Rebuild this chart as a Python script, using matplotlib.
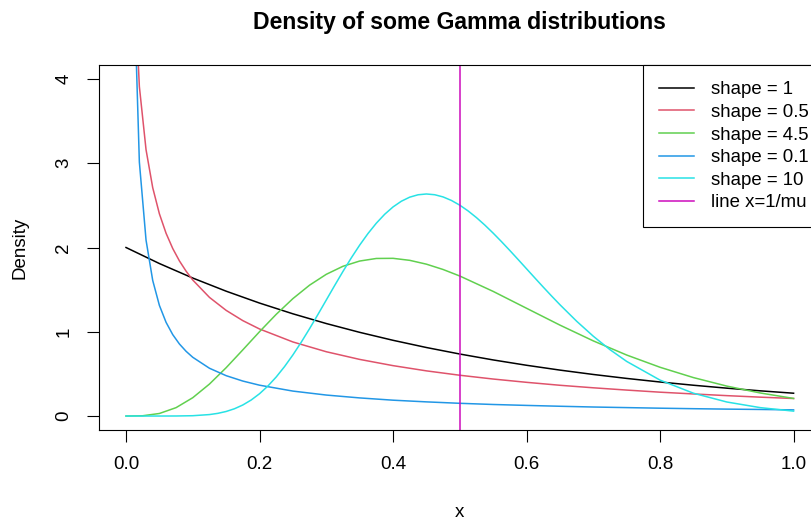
import matplotlib
matplotlib.use('Agg')
import matplotlib.pyplot as plt

# values (Gamma densities, mean 1/mu = 0.5)
x_shape1 = [0.0, 0.05, 0.1, 0.15, 0.2, 0.25, 0.3, 0.35, 0.4, 0.45, 0.5,
            0.55, 0.6, 0.65, 0.7, 0.75, 0.8, 0.85, 0.9, 0.95, 1.0]
y_shape1 = [2.0, 1.8097, 1.6375, 1.4816, 1.3406, 1.2131, 1.0976, 0.9932,
            0.8987, 0.8131, 0.7358, 0.6657, 0.6024, 0.5451, 0.4932, 0.4463,
            0.4038, 0.3654, 0.3306, 0.2991, 0.2707]

x_steep = [0.01, 0.02, 0.03, 0.04, 0.05, 0.06, 0.07, 0.08, 0.09, 0.1,
           0.125, 0.15, 0.175, 0.2, 0.25, 0.3, 0.35, 0.4, 0.45, 0.5, 0.55,
           0.6, 0.65, 0.7, 0.75, 0.8, 0.85, 0.9, 0.95, 1.0]
y_shape05 = [5.586, 3.910, 3.161, 2.710, 2.400, 2.169, 1.988, 1.841, 1.719,
             1.614, 1.408, 1.254, 1.132, 1.033, 0.879, 0.763, 0.672, 0.598,
             0.536, 0.484, 0.439, 0.400, 0.365, 0.335, 0.308, 0.283, 0.262,
             0.242, 0.224, 0.208]
y_shape01 = [5.635, 3.014, 2.088, 1.609, 1.313, 1.112, 0.966, 0.855, 0.768,
             0.697, 0.567, 0.479, 0.415, 0.366, 0.296, 0.249, 0.215, 0.188,
             0.168, 0.151, 0.137, 0.126, 0.116, 0.107, 0.100, 0.093, 0.087,
             0.082, 0.078, 0.073]

x_shape45 = [0.0, 0.025, 0.05, 0.075, 0.1, 0.125, 0.15, 0.175, 0.2, 0.225,
             0.25, 0.275, 0.3, 0.325, 0.35, 0.375, 0.4, 0.425, 0.45, 0.475,
             0.5, 0.55, 0.6, 0.65, 0.7, 0.75, 0.8, 0.85, 0.9, 0.95, 1.0]
y_shape45 = [0.0, 0.0033, 0.0302, 0.0995, 0.2176, 0.3794, 0.5734, 0.7854,
             1.0008, 1.2068, 1.3934, 1.5532, 1.6818, 1.7772, 1.8393, 1.8699,
             1.8715, 1.8477, 1.8022, 1.7389, 1.6616, 1.4790, 1.2788, 1.0790,
             0.8917, 0.7239, 0.5786, 0.4561, 0.3552, 0.2737, 0.2088]

x_shape10 = [0.0, 0.025, 0.05, 0.075, 0.1, 0.125, 0.1375, 0.15, 0.1625,
             0.175, 0.1875, 0.2, 0.2125, 0.225, 0.2375, 0.25, 0.2625, 0.275,
             0.2875, 0.3, 0.3125, 0.325, 0.3375, 0.35, 0.3625, 0.375, 0.3875,
             0.4, 0.4125, 0.425, 0.4375, 0.45, 0.4625, 0.475, 0.4875, 0.5,
             0.5125, 0.525, 0.5375, 0.55, 0.5625, 0.575, 0.5875, 0.6, 0.6125,
             0.625, 0.6375, 0.65, 0.675, 0.7, 0.725, 0.75, 0.8, 0.85, 0.9,
             0.95, 1.0]
y_shape10 = [0.0, 0.0, 0.00002, 0.0005, 0.0038, 0.0173, 0.0317, 0.0540,
             0.0865, 0.1312, 0.1901, 0.2646, 0.3557, 0.4633, 0.5870, 0.7253,
             0.8763, 1.0373, 1.2053, 1.3768, 1.5483, 1.7162, 1.8772, 2.0281,
             2.1661, 2.2888, 2.3944, 2.4815, 2.5493, 2.5974, 2.6258, 2.6351,
             2.6261, 2.6001, 2.5582, 2.5022, 2.4337, 2.3544, 2.2661, 2.1705,
             2.0693, 1.9641, 1.8563, 1.7473, 1.6383, 1.5303, 1.4243, 1.3211,
             1.1254, 0.9469, 0.7876, 0.6481, 0.4262, 0.2706, 0.1665, 0.0997,
             0.0582]

x_line = 0.5
x_ticks = [0.0, 0.2, 0.4, 0.6, 0.8, 1.0]
y_ticks = [0, 1, 2, 3, 4]

series = [
  (x_shape1, y_shape1, 'shape = 1', '#000000'),
  (x_steep, y_shape05, 'shape = 0.5', '#DF536B'),
  (x_shape45, y_shape45, 'shape = 4.5', '#61D04F'),
  (x_steep, y_shape01, 'shape = 0.1', '#2297E6'),
  (x_shape10, y_shape10, 'shape = 10', '#28E2E5'),
]

plt.rcParams['font.family'] = ['Liberation Sans', 'DejaVu Sans']

fig = plt.figure(figsize=(8.12, 5.21), dpi=100)
# plot region runs past the right edge, as in the reference
ax = fig.add_axes([0.1223, 0.1756, 0.8879, 0.6987])

for xs, ys, label, color in series:
  ax.plot(xs, ys, color=color, lw=1.1, label=label)
ax.axvline(x_line, color='#CD0BBC', lw=1.1, label='line x=1/mu')

ax.set_xlim(-0.04, 1.04)
ax.set_ylim(-0.16, 4.16)
ax.set_xticks(x_ticks)
ax.set_xticklabels(['%.1f' % t for t in x_ticks])
ax.set_yticks(y_ticks)
ax.set_yticklabels([str(t) for t in y_ticks], rotation=90, va='center')

ax.tick_params(direction='out', length=8.6, width=0.8, pad=10.8,
               labelsize=13.5, color='black')
for s in ax.spines.values():
  s.set_linewidth(0.8)
  s.set_color('black')

ax.set_xlabel('x', fontsize=13.5, labelpad=22)
ax.set_ylabel('Density', fontsize=13.5, labelpad=19)
ax.set_title('Density of some Gamma distributions', fontsize=16.6,
             fontweight='bold', pad=26)

leg = ax.legend(loc='upper right', bbox_to_anchor=(1.0055, 1), borderaxespad=0,
                fancybox=False, edgecolor='black', framealpha=1,
                fontsize=13.4, handlelength=1.9, handletextpad=0.9,
                borderpad=0.85, labelspacing=0.3)
leg.get_frame().set_linewidth(0.8)

fig.savefig('out.png', dpi=100)
